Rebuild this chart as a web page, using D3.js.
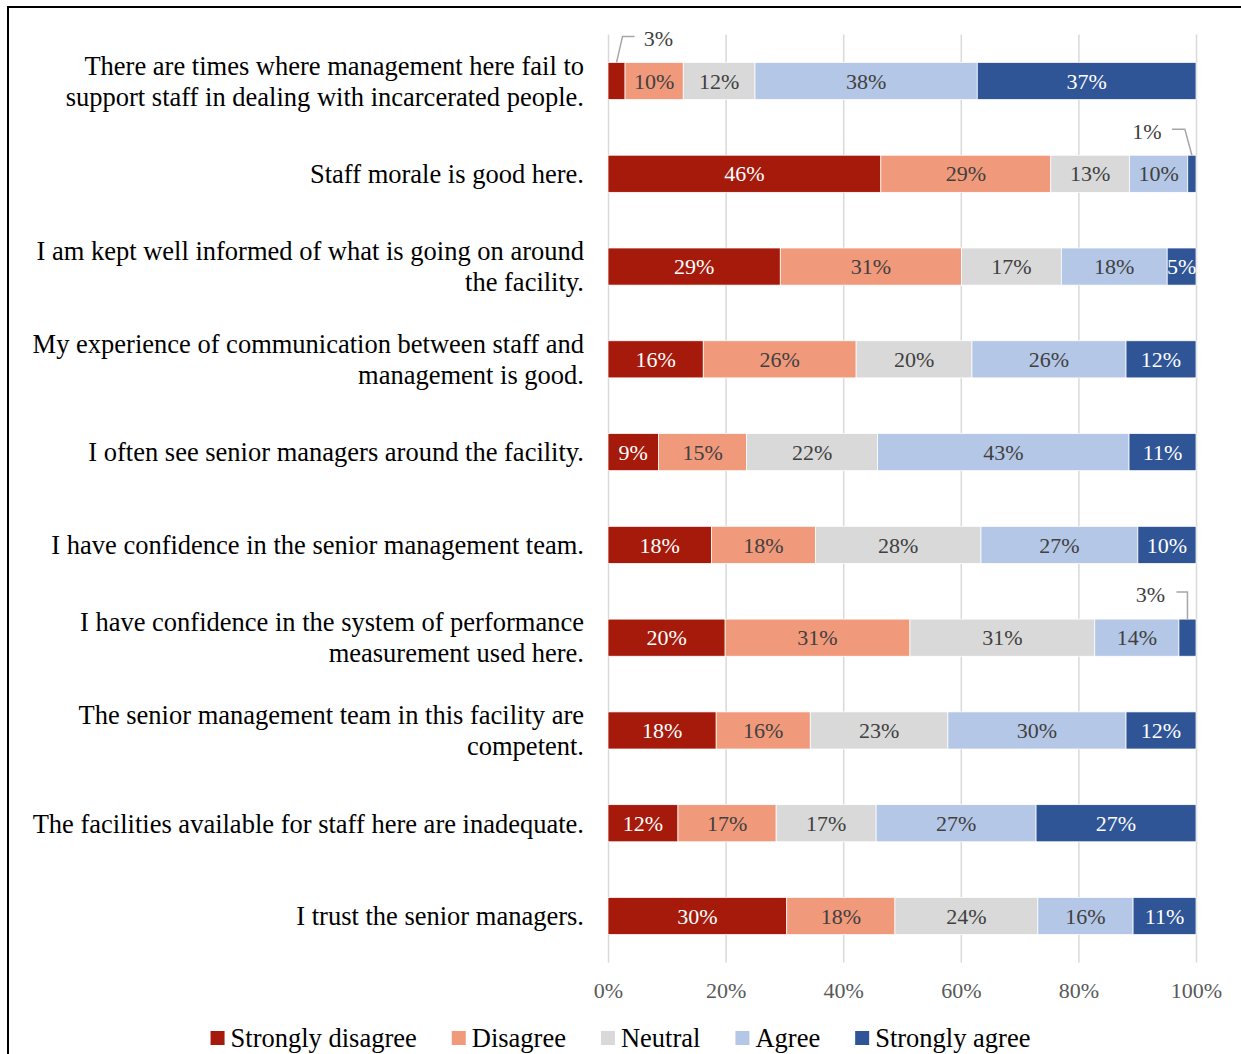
<!DOCTYPE html>
<html>
<head>
<meta charset="utf-8">
<script src="https://cdn.jsdelivr.net/npm/d3@7"></script>
<style>
  html, body { margin: 0; padding: 0; background: #fff; }
  svg { display: block; font-family: "Liberation Serif", "Times New Roman", serif; }
</style>
</head>
<body>
<svg id="chart" width="1241" height="1054"></svg>
<script>
// Survey statements (each entry is the list of lines the label wraps onto)
const categories = [
  ["There are times where management here fail to", "support staff in dealing with incarcerated people."],
  ["Staff morale is good here."],
  ["I am kept well informed of what is going on around", "the facility."],
  ["My experience of communication between staff and", "management is good."],
  ["I often see senior managers around the facility."],
  ["I have confidence in the senior management team."],
  ["I have confidence in the system of performance", "measurement used here."],
  ["The senior management team in this facility are", "competent."],
  ["The facilities available for staff here are inadequate."],
  ["I trust the senior managers."]
];

const seriesNames = ["Strongly disagree", "Disagree", "Neutral", "Agree", "Strongly agree"];

// Share of responses (%) per statement, in the order above
const stronglyDisagree = [2.9, 46.4, 29.3, 16.2, 8.6, 17.6, 19.9, 18.4, 11.9, 30.4];
const disagree         = [9.9, 28.9, 30.8, 26.0, 15.0, 17.7, 31.4, 16.0, 16.7, 18.4];
const neutral          = [12.2, 13.4, 17.0, 19.7, 22.3, 28.2, 31.4, 23.4, 17.0, 24.3];
const agree            = [37.8, 9.9, 18.0, 26.2, 42.8, 26.7, 14.3, 30.3, 27.2, 16.2];
const stronglyAgree    = [37.2, 1.4, 4.9, 11.9, 11.4, 9.9, 2.9, 11.9, 27.2, 10.7];

const tickValues = [0, 20, 40, 60, 80, 100];

// ---- styling / layout ----
const colors = ["#A51A0B", "#F1997B", "#D9D9D9", "#B4C7E7", "#2F5597"];
const labelColors = ["#FFFFFF", "#404040", "#404040", "#404040", "#FFFFFF"];
const plot = { left: 608, right: 1196, top: 34.6, bottom: 962.4 };
const labelX = 584;

// Segments too narrow for an inside label get a callout with a leader line
const callouts = [
  { row: 0, key: "Strongly disagree", elbowDx: 6, endDx: 18, labelDx: 42, rise: 26 },
  { row: 1, key: "Strongly agree", elbowDx: -7, endDx: -20, labelDx: -45, rise: 26 },
  { row: 6, key: "Strongly agree", elbowDx: 0, endDx: -11, labelDx: -37, rise: 27 }
];

const columns = [stronglyDisagree, disagree, neutral, agree, stronglyAgree];
const rows = categories.map((c, i) => {
  const r = { index: i };
  seriesNames.forEach((s, j) => { r[s] = columns[j][i]; });
  return r;
});

const svg = d3.select("#chart");

const x = d3.scaleLinear().domain([0, 100]).range([plot.left, plot.right]);
const y = d3.scaleBand()
  .domain(d3.range(categories.length))
  .range([plot.top, plot.bottom])
  .paddingInner(0.6)
  .paddingOuter(0.3);

const stacked = d3.stack()
  .keys(seriesNames)
  .offset(d3.stackOffsetExpand)(rows);

// outer frame
svg.append("path")
  .attr("d", "M8,1054V7H1241")
  .attr("fill", "none")
  .attr("stroke", "#000")
  .attr("stroke-width", 2);

// vertical gridlines
svg.append("g")
  .attr("transform", `translate(0,${plot.bottom})`)
  .call(d3.axisBottom(x).tickValues(tickValues).tickSize(-(plot.bottom - plot.top)).tickFormat(""))
  .call(g => g.select(".domain").remove())
  .call(g => g.selectAll(".tick line").attr("stroke", "#D9D9D9").attr("stroke-width", 1.5));

// bars
const layer = svg.append("g").selectAll("g")
  .data(stacked)
  .join("g")
  .attr("fill", (d, i) => colors[i]);

layer.selectAll("rect")
  .data(d => d)
  .join("rect")
  .attr("x", d => x(d[0] * 100))
  .attr("width", d => x(d[1] * 100) - x(d[0] * 100))
  .attr("y", d => y(d.data.index))
  .attr("height", y.bandwidth())
  .attr("stroke", "#fff")
  .attr("stroke-width", 0.75);

// value labels
const fmt = v => d3.format(".0f")(v) + "%";
const isCallout = (row, key) => callouts.some(c => c.row === row && c.key === key);

stacked.forEach((s, si) => {
  svg.append("g")
    .selectAll("text")
    .data(s.filter(d => !isCallout(d.data.index, s.key)))
    .join("text")
    .attr("x", d => (x(d[0] * 100) + x(d[1] * 100)) / 2)
    .attr("y", d => y(d.data.index) + y.bandwidth() / 2)
    .attr("dy", "0.35em")
    .attr("text-anchor", "middle")
    .attr("font-size", 22)
    .attr("fill", labelColors[si])
    .text(d => fmt(d.data[s.key]));
});

// callouts
const cg = svg.append("g");
callouts.forEach(c => {
  const s = stacked.find(k => k.key === c.key);
  const d = s[c.row];
  const ax = (x(d[0] * 100) + x(d[1] * 100)) / 2;
  const top = y(c.row);
  const ly = top - c.rise;
  cg.append("path")
    .attr("d", `M${ax},${top}L${ax + c.elbowDx},${ly}L${ax + c.endDx},${ly}`)
    .attr("fill", "none")
    .attr("stroke", "#A6A6A6")
    .attr("stroke-width", 1.5);
  cg.append("text")
    .attr("x", ax + c.labelDx)
    .attr("y", ly + 2)
    .attr("dy", "0.35em")
    .attr("text-anchor", "middle")
    .attr("font-size", 22)
    .attr("fill", "#404040")
    .text(fmt(d.data[c.key]));
});

// category labels
const lineGap = 31;
svg.append("g")
  .selectAll("text")
  .data(categories)
  .join("text")
  .attr("text-anchor", "end")
  .attr("font-size", 26.5)
  .attr("fill", "#000")
  .each(function (lines, i) {
    const cy = y(i) + y.bandwidth() / 2;
    const t = d3.select(this);
    lines.forEach((line, k) => {
      t.append("tspan")
        .attr("x", labelX)
        .attr("y", cy + (k - (lines.length - 1) / 2) * lineGap)
        .attr("dy", "0.35em")
        .text(line);
    });
  });

// x axis tick labels
svg.append("g")
  .attr("transform", `translate(0,${plot.bottom})`)
  .call(d3.axisBottom(x).tickValues(tickValues).tickSize(0).tickPadding(20).tickFormat(d => d + "%"))
  .call(g => g.select(".domain").remove())
  .call(g => g.selectAll("text")
    .attr("font-family", "'Liberation Serif', 'Times New Roman', serif")
    .attr("font-size", 22)
    .attr("fill", "#595959"));

// legend, centred under the chart
const legend = svg.append("g");
const sw = 14, swGap = 6, itemGap = 35, legendY = 1038;
const items = legend.selectAll("g")
  .data(seriesNames)
  .join("g");
items.append("rect")
  .attr("width", sw)
  .attr("height", sw)
  .attr("y", legendY - sw / 2)
  .attr("fill", (d, i) => colors[i]);
items.append("text")
  .attr("x", sw + swGap)
  .attr("y", legendY)
  .attr("dy", "0.35em")
  .attr("font-size", 26.5)
  .attr("fill", "#000")
  .text(d => d);
let cursor = 0;
const offsets = [];
items.each(function () {
  const w = sw + swGap + d3.select(this).select("text").node().getComputedTextLength();
  offsets.push(cursor);
  cursor += w + itemGap;
});
const total = cursor - itemGap;
const startX = 1241 / 2 - total / 2;
items.attr("transform", (d, i) => `translate(${startX + offsets[i]},0)`);
</script>
</body>
</html>
